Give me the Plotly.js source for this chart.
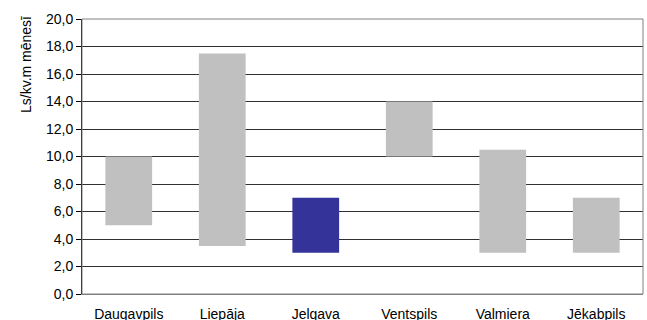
<!DOCTYPE html>
<html>
<head>
<meta charset="utf-8">
<script src="https://cdn.plot.ly/plotly-3.0.1.min.js"></script>
<style>
  html, body { margin: 0; padding: 0; background: #fff; }
  #chart { width: 647px; height: 320px; }
</style>
</head>
<body>
<div id="chart"></div>
<script>
// Rent ranges per city (Ls per sq. m per month): lower and upper bound
const categories = ['Daugavpils', 'Liepāja', 'Jelgava', 'Ventspils', 'Valmiera', 'Jēkabpils'];
const lowValues  = [5.0, 3.5, 3.0, 10.0, 3.0, 3.0];
const highValues = [10.0, 17.5, 7.0, 14.0, 10.5, 7.0];
const highlighted = 'Jelgava';
const yTickValues = [0, 2, 4, 6, 8, 10, 12, 14, 16, 18, 20];
const yAxisTitle = 'Ls/kv.m mēnesī';

const GREY = '#C0C0C0';
const BLUE = '#333399';
const FONT = 'Liberation Sans, Arial, sans-serif';

// Floating bars: each bar starts at the lower bound and spans to the upper bound
const trace = {
  type: 'bar',
  x: categories,
  base: lowValues,
  y: highValues.map((h, i) => h - lowValues[i]),
  width: 0.5,
  marker: {
    color: categories.map(c => c === highlighted ? BLUE : GREY),
    line: { width: 0 }
  },
  hoverinfo: 'skip'
};

const layout = {
  width: 647,
  height: 320,
  margin: { l: 82, r: 4, t: 19, b: 26, pad: 0 },
  paper_bgcolor: '#ffffff',
  plot_bgcolor: '#ffffff',
  separators: ', ',
  showlegend: false,
  font: { family: FONT, size: 14, color: '#000000' },
  bargap: 0.5,
  xaxis: {
    type: 'category',
    range: [-0.5, categories.length - 0.5],
    showgrid: false,
    zeroline: false,
    showline: true,
    linecolor: '#808080',
    linewidth: 1,
    ticks: 'outside',
    ticklen: 7,
    tickcolor: 'rgba(0,0,0,0)',
    tickfont: { family: FONT, size: 14, color: '#000000' },
    fixedrange: true
  },
  yaxis: {
    range: [0, 20],
    tickvals: yTickValues,
    tickformat: '.1f',
    ticks: 'outside',
    ticklen: 5,
    tickwidth: 1,
    tickcolor: '#000000',
    showline: true,
    linecolor: '#000000',
    linewidth: 1,
    showgrid: true,
    gridcolor: '#303030',
    gridwidth: 1,
    zeroline: false,
    tickfont: { family: FONT, size: 14, color: '#000000' },
    fixedrange: true
  },
  shapes: [
    {
      type: 'rect', xref: 'paper', yref: 'paper',
      x0: 0, x1: 1, y0: 0, y1: 1,
      line: { color: '#808080', width: 1 },
      layer: 'above'
    }
  ],
  annotations: [
    {
      text: yAxisTitle,
      xref: 'paper', yref: 'paper',
      x: -0.1, y: 0.836,
      xanchor: 'center', yanchor: 'middle',
      textangle: -90,
      showarrow: false,
      font: { family: FONT, size: 14, color: '#000000' }
    }
  ]
};

Plotly.newPlot('chart', [trace], layout, { displayModeBar: false, staticPlot: true });
</script>
</body>
</html>
